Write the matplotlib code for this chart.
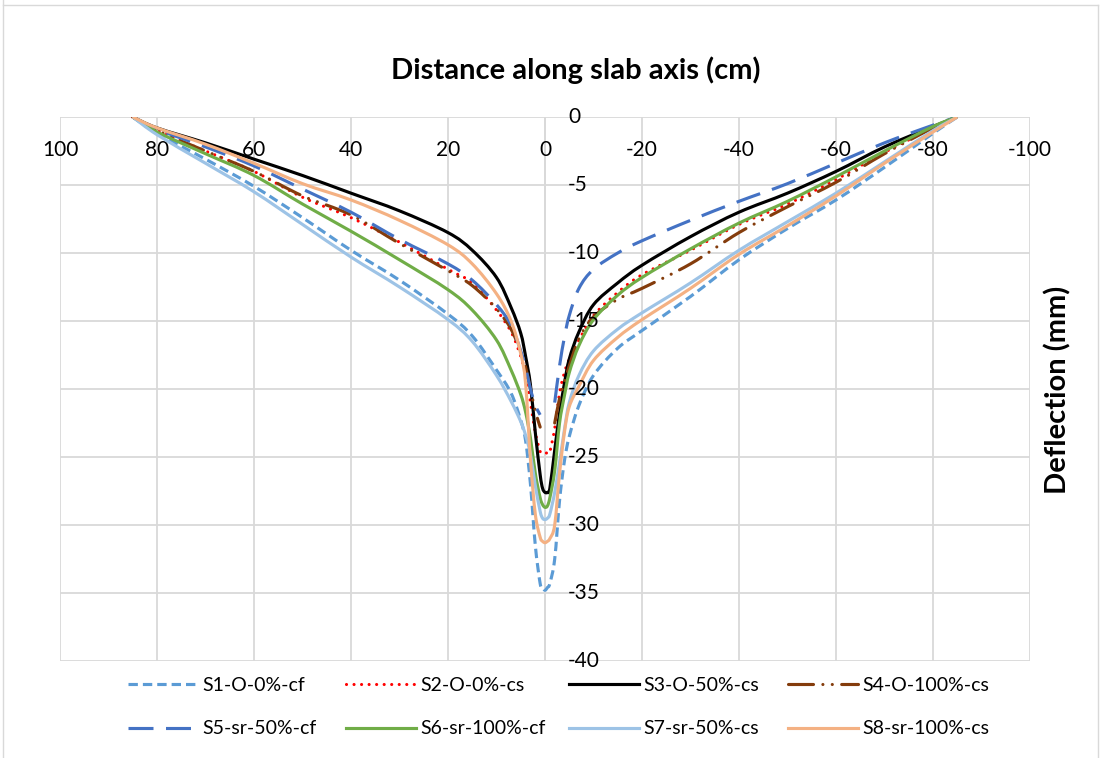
import numpy as np
import matplotlib.pyplot as plt
from matplotlib.lines import Line2D
from matplotlib.path import Path
from matplotlib.patches import PathPatch
from matplotlib.transforms import ScaledTranslation

plt.rcParams['font.family'] = ['Lato', 'DejaVu Sans']
plt.rcParams['axes.unicode_minus'] = False

# distance along slab axis (cm)
x = [85, 80, 70, 60, 50, 40, 30, 20, 15, 10, 7, 5, 4, 3, 2, 1, 0.5, 0,
     -0.5, -1, -2, -3, -4, -5, -7, -10, -15, -20, -30, -40, -50, -60, -70, -80, -85]

nan = np.nan
# deflections (mm)
s1 = [0, -1.2, -3.1, -5.1, -7.4, -9.8, -12.0, -14.5, -16.1, -18.6, -20.3, -22.3, -23.8, -27.0, -31.5, -34.3, -34.6, -34.8,
      -34.6, -34.3, -32.5, -28.2, -25.3, -23.5, -21.2, -19.0, -17.0, -15.7, -13.2, -10.5, -8.2, -6.1, -3.7, -1.2, 0]
s2 = [0, -1.0, -2.5, -4.0, -5.9, -7.4, -9.2, -11.2, -12.2, -14.2, -15.8, -17.6, -19.0, -21.0, -23.2, -24.6, -24.7, -24.7,
      -24.7, -24.6, -22.9, -20.3, -18.8, -17.8, -16.4, -14.6, -12.9, -11.6, -9.8, -7.9, -6.4, -4.6, -2.6, -0.8, 0]
s3 = [0, -0.8, -1.9, -3.1, -4.3, -5.6, -6.9, -8.5, -9.8, -11.8, -14.0, -15.9, -17.6, -19.7, -23.2, -26.3, -27.3, -27.6,
      -27.6, -27.3, -24.5, -21.8, -19.6, -17.8, -15.8, -13.8, -12.2, -10.9, -8.8, -7.0, -5.6, -4.0, -2.2, -0.7, 0]
s4 = [0, -1.0, -2.5, -4.0, -5.8, -7.2, -9.3, -11.3, -12.4, -14.1, -15.6, -17.3, -18.4, -20.0, -21.6, -22.8, nan, nan,
      nan, nan, -22.5, -20.7, -19.5, -18.3, -16.3, -14.7, -13.4, -12.6, -10.8, -8.5, -6.6, -4.8, -2.7, -0.8, 0]
s5 = [0, -0.9, -2.2, -3.6, -5.3, -7.0, -9.0, -10.8, -12.0, -13.8, -15.3, -17.2, -18.4, -20.0, -21.2, -21.9, nan, nan,
      nan, nan, -21.0, -18.3, -16.2, -14.6, -12.6, -11.2, -10.0, -9.1, -7.6, -6.2, -4.9, -3.4, -1.9, -0.6, 0]
s6 = [0, -1.1, -2.7, -4.3, -6.4, -8.4, -10.5, -12.7, -14.2, -16.4, -18.6, -20.4, -21.7, -23.6, -26.2, -28.0, -28.5, -28.7,
      -28.6, -28.0, -26.0, -22.5, -20.5, -18.8, -16.8, -14.9, -13.1, -11.8, -9.7, -7.8, -6.2, -4.4, -2.5, -0.7, 0]
s7 = [0, -1.3, -3.4, -5.5, -7.9, -10.3, -12.5, -14.9, -16.5, -19.0, -20.9, -22.4, -23.4, -24.8, -27.1, -29.0, -29.5, -29.6,
      -29.5, -29.2, -27.6, -25.4, -23.0, -21.0, -19.0, -17.2, -15.6, -14.4, -12.2, -9.8, -7.7, -5.6, -3.3, -1.0, 0]
s8 = [0, -0.8, -2.0, -3.4, -4.9, -6.1, -7.6, -9.4, -10.8, -13.0, -15.0, -17.4, -19.6, -25.2, -29.2, -30.9, -31.2, -31.3,
      -31.2, -31.0, -30.0, -26.2, -23.2, -21.3, -19.8, -17.9, -16.2, -14.9, -12.6, -10.1, -8.0, -5.8, -3.4, -1.1, 0]

names = ['S1-O-0%-cf', 'S2-O-0%-cs', 'S3-O-50%-cs', 'S4-O-100%-cs',
         'S5-sr-50%-cf', 'S6-sr-100%-cf', 'S7-sr-50%-cs', 'S8-sr-100%-cs']
series = [s1, s2, s3, s4, s5, s6, s7, s8]
colors = ['#5B9BD5', '#FF0000', '#000000', '#843C0C', '#4472C4', '#70AD47', '#9DC3E6', '#F4B183']
styles = [(0, (3, 1.6)), (0, (0.01, 2.4)), '-', (0, (8, 3, 0.01, 3, 0.01, 3)),
          (0, (8, 4)), '-', '-', '-']
caps = ['butt', 'round', 'butt', 'round', 'butt', 'butt', 'butt', 'butt']

xticks = [100, 80, 60, 40, 20, 0, -20, -40, -60, -80, -100]
xticklabels = ['100', '80', '60', '40', '20', '0', '-20', '-40', '-60', '-80', '-100']
yticks = [0, -5, -10, -15, -20, -25, -30, -35, -40]
yticklabels = ['0', '-5', '-10', '-15', '-20', '-25', '-30', '-35', '-40']


def smooth_path(xs, ys):
    # smoothed line like Excel: bezier segments through the read points
    verts, codes = [], []
    run = []
    for px, py in list(zip(xs, ys)) + [(nan, nan)]:
        if np.isnan(py):
            if len(run) > 1:
                p = np.array(run, dtype=float)
                n = len(p)
                verts.append(p[0])
                codes.append(Path.MOVETO)
                for i in range(n - 1):
                    p0 = p[i - 1] if i > 0 else p[i]
                    p3 = p[i + 2] if i + 2 < n else p[i + 1]
                    verts += [p[i] + (p[i + 1] - p0) / 6, p[i + 1] - (p3 - p[i]) / 6, p[i + 1]]
                    codes += [Path.CURVE4] * 3
            run = []
        else:
            run.append((px, py))
    return Path(verts, codes)


W, H = 1104, 758
fig = plt.figure(figsize=(W / 100, H / 100), dpi=100)
ax = fig.add_axes([60 / W, 1 - 661 / H, 970 / W, 544 / H])

handles = []
for name, ys, c, ls, cap in zip(names, series, colors, styles, caps):
    patch = PathPatch(smooth_path(x, ys), fill=False, edgecolor=c, linestyle=ls, lw=2.25,
                      capstyle=cap, joinstyle='round')
    ax.add_patch(patch)
    handles.append(Line2D([], [], color=c, linestyle=ls, lw=2.25, dash_capstyle=cap))

ax.set_xlim(100, -100)
ax.set_ylim(-40, 0)
ax.set_xticks(xticks)
ax.set_xticklabels(xticklabels)
ax.set_yticks(yticks)
ax.grid(True, color='#D9D9D9', lw=1.3)
ax.set_axisbelow(True)
for s in ax.spines.values():
    s.set_visible(False)
ax.axvline(0, color='#D9D9D9', lw=1.3, zorder=0.5)

ax.xaxis.tick_top()
ax.tick_params(axis='x', length=0, pad=-31, labelsize=15)
ax.tick_params(axis='y', length=0, labelleft=False, labelright=False)

# value axis labels sit just right of the vertical axis at x = 0
shift = ax.transData + ScaledTranslation(23 / 100, 0, fig.dpi_scale_trans)
for yv, lab in zip(yticks, yticklabels):
    ax.text(0, yv, lab, transform=shift, ha='left', va='center', fontsize=15)

fig.text(576 / W, 1 - 70 / H, 'Distance along slab axis (cm)', ha='center', va='center',
         fontsize=21, fontweight='bold')
fig.text(1058 / W, 1 - 390 / H, 'Deflection (mm)', ha='center', va='center',
         rotation=90, fontsize=21, fontweight='bold')

# legend: 4 equal columns, 2 rows
col_x = [130, 348, 571, 790]
for k, cx in enumerate(col_x):
    leg = fig.legend([handles[k], handles[k + 4]], [names[k], names[k + 4]], loc='upper left',
                     bbox_to_anchor=((cx - 2) / W, 1 - 677 / H), frameon=False, fontsize=14,
                     handlelength=3.6, handletextpad=0.2, labelspacing=1.36,
                     borderpad=0, borderaxespad=0)

# chart area border
for xs, ys_ in [([3, 3], [0, 758]), ([3, 1098], [5, 5]), ([1098, 1098], [5, 758])]:
    fig.add_artist(Line2D([v / W for v in xs], [1 - v / H for v in ys_], color='#D9D9D9', lw=1))

fig.savefig('out.png', dpi=100)
